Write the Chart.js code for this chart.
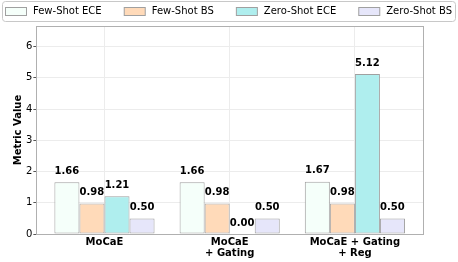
<!DOCTYPE html>
<html><head><meta charset="utf-8">
<script src="https://cdn.jsdelivr.net/npm/chart.js@4.4.1/dist/chart.umd.min.js"></script>
<style>html,body{margin:0;padding:0;background:#fff}#wrap{width:458px;height:262px}</style>
</head><body><div id="wrap"><canvas id="c" width="458" height="262"></canvas></div>
<script>
const categories = [["MoCaE"], ["MoCaE", "+ Gating"], ["MoCaE + Gating", "+ Reg"]];
const seriesNames = ["Few-Shot ECE", "Few-Shot BS", "Zero-Shot ECE", "Zero-Shot BS"];
const fewShotECE = [1.66, 1.66, 1.67];
const fewShotBS = [0.98, 0.98, 0.98];
const zeroShotECE = [1.21, 0.00, 5.12];
const zeroShotBS = [0.50, 0.50, 0.50];
const yTicks = [0, 1, 2, 3, 4, 5, 6];

const colors = ["#F5FFFA", "#FFDAB9", "#AFEEEE", "#E6E6FA"];
const allSeries = [fewShotECE, fewShotBS, zeroShotECE, zeroShotBS];
const FONT = "'DejaVu Sans', sans-serif";

const datasets = allSeries.map((vals, i) => ({
  label: seriesNames[i],
  data: vals.map((v, k) => ({x: k, y: v})),
  backgroundColor: colors[i],
  borderColor: "#a0a0a0",
  borderWidth: 1,
  borderSkipped: false,
  barPercentage: 1.0,
  categoryPercentage: 0.8
}));

const frame = {
  id: 'frame',
  afterDraw(chart) {
    const ctx = chart.ctx, a = chart.chartArea;
    ctx.save();
    ctx.strokeStyle = "#b0b0b0";
    ctx.lineWidth = 1;
    ctx.strokeRect(Math.round(a.left) + 0.5, Math.round(a.top) + 0.5, Math.round(a.right - a.left), Math.round(a.bottom - a.top));
    // legend
    ctx.strokeStyle = "#c8c8c8";
    ctx.beginPath();
    ctx.roundRect(2.5, 1.5, 453, 20, 3);
    ctx.stroke();
    ctx.font = "10px " + FONT;
    ctx.textBaseline = "middle";
    ctx.textAlign = "left";
    const sw = 21, gapT = 7, x0 = 5, x1 = 452;
    const ds = chart.data.datasets;
    const widths = ds.map(d => sw + gapT + ctx.measureText(d.label).width);
    const total = widths.reduce((s, w) => s + w, 0);
    const gap = (x1 - x0 - total) / (ds.length - 1);
    let x = x0;
    const cy = 11.5;
    ds.forEach((d, i) => {
      ctx.fillStyle = d.backgroundColor;
      ctx.fillRect(x + 0.5, cy - 4, sw, 8);
      ctx.strokeStyle = "#a0a0a0";
      ctx.strokeRect(x + 0.5, cy - 4, sw, 8);
      ctx.fillStyle = "#000";
      ctx.fillText(d.label, x + sw + gapT, cy);
      x += widths[i] + gap;
    });
    // value labels
    ctx.fillStyle = "#000";
    ctx.font = "bold 10px " + FONT;
    ctx.textAlign = "center";
    ctx.textBaseline = "bottom";
    ds.forEach((d, di) => {
      const meta = chart.getDatasetMeta(di);
      meta.data.forEach((bar, k) => {
        ctx.fillText(d.data[k].y.toFixed(2), bar.x, bar.y - 6);
      });
    });
    ctx.restore();
  }
};

new Chart(document.getElementById('c'), {
  type: 'bar',
  data: { datasets },
  plugins: [frame],
  options: {
    responsive: false,
    animation: false,
    devicePixelRatio: 1,
    layout: { padding: { left: 11, right: 35, top: 26, bottom: 0 } },
    plugins: {
      tooltip: { enabled: false },
      legend: { display: false }
    },
    scales: {
      x: {
        type: 'linear',
        min: -0.544, max: 2.544,
        offset: false,
        afterBuildTicks(scale) { scale.ticks = categories.map((c, i) => ({value: i})); },
        ticks: {
          color: "#000",
          font: { family: FONT, size: 10, weight: 'bold', lineHeight: 1.1 },
          padding: 3,
          maxRotation: 0,
          autoSkip: false,
          callback: (v) => categories[v]
        },
        grid: { color: "#ececec", lineWidth: 1, drawTicks: false, offset: false },
        border: { display: false }
      },
      y: {
        min: 0, max: 6.656,
        afterBuildTicks(scale) { scale.ticks = yTicks.map(v => ({value: v})); },
        ticks: { color: "#000", font: { family: FONT, size: 10 }, padding: 1 },
        grid: { color: "#ececec", lineWidth: 1, drawTicks: true, tickLength: 3, tickColor: "#555" },
        border: { display: false },
        title: { display: true, text: "Metric Value", color: "#000", font: { family: FONT, size: 10, weight: 'bold' }, padding: 1 }
      }
    }
  }
});
</script></body></html>
